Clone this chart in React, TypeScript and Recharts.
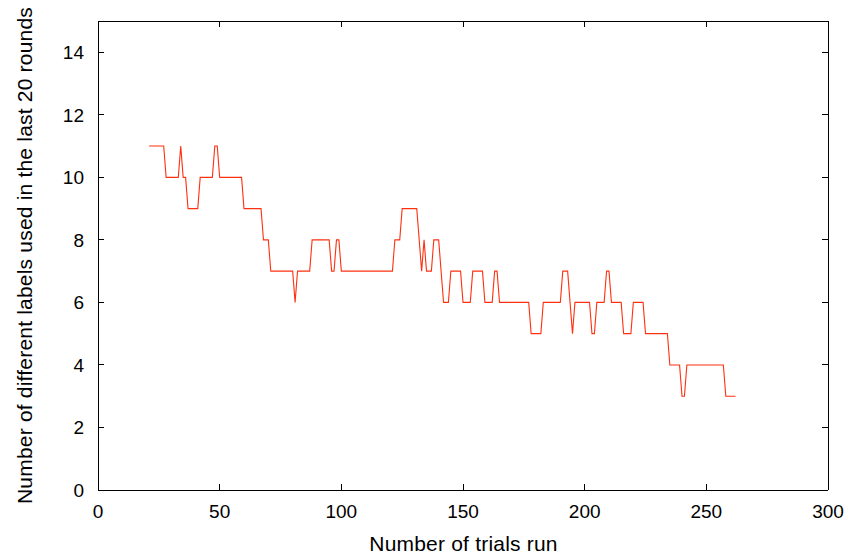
import { LineChart, Line, XAxis, YAxis } from 'recharts';

// Trials are consecutive, starting here
const firstTrial = 21;

// Number of distinct labels used over the previous 20 rounds, one per trial (21..262)
const labelsUsed = [
  11, 11, 11, 11, 11, 11, 11, 10, 10, 10, // 21-30
  10, 10, 10, 11, 10, 10, 9, 9, 9, 9, // 31-40
  9, 10, 10, 10, 10, 10, 10, 11, 11, 10, // 41-50
  10, 10, 10, 10, 10, 10, 10, 10, 10, 9, // 51-60
  9, 9, 9, 9, 9, 9, 9, 8, 8, 8, // 61-70
  7, 7, 7, 7, 7, 7, 7, 7, 7, 7, // 71-80
  6, 7, 7, 7, 7, 7, 7, 8, 8, 8, // 81-90
  8, 8, 8, 8, 8, 7, 7, 8, 8, 7, // 91-100
  7, 7, 7, 7, 7, 7, 7, 7, 7, 7, // 101-110
  7, 7, 7, 7, 7, 7, 7, 7, 7, 7, // 111-120
  7, 8, 8, 8, 9, 9, 9, 9, 9, 9, // 121-130
  9, 8, 7, 8, 7, 7, 7, 8, 8, 8, // 131-140
  7, 6, 6, 6, 7, 7, 7, 7, 7, 6, // 141-150
  6, 6, 6, 7, 7, 7, 7, 7, 6, 6, // 151-160
  6, 6, 7, 7, 6, 6, 6, 6, 6, 6, // 161-170
  6, 6, 6, 6, 6, 6, 6, 5, 5, 5, // 171-180
  5, 5, 6, 6, 6, 6, 6, 6, 6, 6, // 181-190
  7, 7, 7, 6, 5, 6, 6, 6, 6, 6, // 191-200
  6, 6, 5, 5, 6, 6, 6, 6, 7, 7, // 201-210
  6, 6, 6, 6, 6, 5, 5, 5, 5, 6, // 211-220
  6, 6, 6, 6, 5, 5, 5, 5, 5, 5, // 221-230
  5, 5, 5, 5, 4, 4, 4, 4, 4, 3, // 231-240
  3, 4, 4, 4, 4, 4, 4, 4, 4, 4, // 241-250
  4, 4, 4, 4, 4, 4, 4, 3, 3, 3, // 251-260
  3, 3, // 261-262
];

const xTicks = [0, 50, 100, 150, 200, 250, 300];
const yTicks = [0, 2, 4, 6, 8, 10, 12, 14];

const chartData = labelsUsed.map((value, i) => ({ trial: firstTrial + i, value }));

const FONT = '"Liberation Sans", Arial, Helvetica, sans-serif';
const FONT_SIZE = 19;
const TITLE_SIZE = 21;
const TICK_LEN = 6;
const axisStroke = { stroke: '#000', strokeWidth: 1, shapeRendering: 'crispEdges' };

// gnuplot-style ticks: short marks pointing into the plot, labels outside
const BottomTick = ({ x, y, payload }: any) => (
  <g>
    <line x1={x} y1={y} x2={x} y2={y - TICK_LEN} stroke="#000" shapeRendering="crispEdges" />
    <text x={x} y={y + 15} dy="0.71em" textAnchor="middle" fill="#000" fontSize={FONT_SIZE} fontFamily={FONT}>
      {payload.value}
    </text>
  </g>
);

const TopTick = ({ x, y }: any) => (
  <line x1={x} y1={y} x2={x} y2={y + TICK_LEN} stroke="#000" shapeRendering="crispEdges" />
);

const LeftTick = ({ x, y, payload }: any) => (
  <g>
    <line x1={x} y1={y} x2={x + TICK_LEN} y2={y} stroke="#000" shapeRendering="crispEdges" />
    <text x={x - 14} y={y} dy="0.355em" textAnchor="end" fill="#000" fontSize={FONT_SIZE} fontFamily={FONT}>
      {payload.value}
    </text>
  </g>
);

const RightTick = ({ x, y }: any) => (
  <line x1={x} y1={y} x2={x - TICK_LEN} y2={y} stroke="#000" shapeRendering="crispEdges" />
);

const YTitle = () => (
  <text
    transform="translate(32, 255.5) rotate(-90)"
    textAnchor="middle"
    fill="#000"
    fontSize={TITLE_SIZE}
    letterSpacing={0.2}
    fontFamily={FONT}
  >
    Number of different labels used in the last 20 rounds
  </text>
);

const XTitle = () => (
  <text
    x={463.5}
    y={551}
    textAnchor="middle"
    fill="#000"
    fontSize={TITLE_SIZE}
    letterSpacing={0.2}
    fontFamily={FONT}
  >
    Number of trials run
  </text>
);

export default function App() {
  return (
    <div style={{ position: 'absolute', left: 0, top: 0, width: 852, height: 559, background: '#fff' }}>
      <LineChart
        width={852}
        height={559}
        data={chartData}
        margin={{ top: 20, right: 23, bottom: 0, left: 38 }}
      >
        <XAxis
          xAxisId="bottom"
          dataKey="trial"
          type="number"
          domain={[0, 300]}
          ticks={xTicks}
          height={69}
          axisLine={axisStroke}
          tickLine={false}
          tickSize={0}
          tickMargin={0}
          tick={BottomTick}
          interval={0}
          label={{ content: XTitle }}
        />
        {/* mirror axes: close the box and repeat the ticks on top and right */}
        <XAxis
          xAxisId="top"
          orientation="top"
          dataKey="trial"
          type="number"
          domain={[0, 300]}
          ticks={xTicks}
          height={1}
          axisLine={axisStroke}
          tickLine={false}
          tickSize={0}
          tickMargin={0}
          tick={TopTick}
          interval={0}
        />
        <YAxis
          yAxisId="left"
          type="number"
          domain={[0, 15]}
          ticks={yTicks}
          width={60}
          axisLine={axisStroke}
          tickLine={false}
          tickSize={0}
          tickMargin={0}
          tick={LeftTick}
          interval={0}
          label={{ content: YTitle }}
        />
        <YAxis
          yAxisId="right"
          orientation="right"
          dataKey="value"
          type="number"
          domain={[0, 15]}
          ticks={yTicks}
          width={1}
          axisLine={axisStroke}
          tickLine={false}
          tickSize={0}
          tickMargin={0}
          tick={RightTick}
          interval={0}
        />
        <Line
          xAxisId="bottom"
          yAxisId="left"
          type="linear"
          dataKey="value"
          stroke="#ff3010"
          strokeWidth={1.1}
          dot={false}
          activeDot={false}
          isAnimationActive={false}
        />
        {/* invisible twin so the right/top axes get a domain */}
        <Line
          xAxisId="top"
          yAxisId="right"
          type="linear"
          dataKey="value"
          stroke="none"
          dot={false}
          activeDot={false}
          isAnimationActive={false}
        />
      </LineChart>
    </div>
  );
}
